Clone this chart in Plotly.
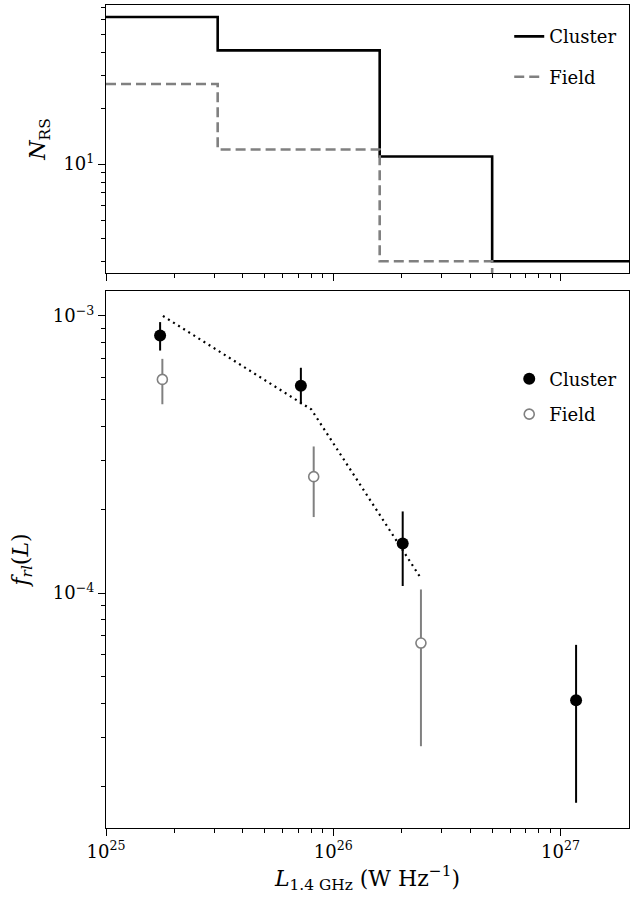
import plotly.graph_objects as go

# ---------------- data ----------------
bin_edges = [1.0e25, 3.1e25, 1.6e26, 5.0e26, 2.0e27]
n_cluster = [62, 41, 11, 3]
n_field = [27, 12, 3, 0]

L_cluster = [1.73e25, 7.2e25, 2.02e26, 1.17e27]
f_cluster = [8.5e-4, 5.6e-4, 1.51e-4, 4.1e-5]
f_cluster_hi = [9.5e-4, 6.5e-4, 1.97e-4, 6.5e-5]
f_cluster_lo = [7.5e-4, 4.8e-4, 1.06e-4, 1.75e-5]

L_field = [1.77e25, 8.2e25, 2.43e26]
f_field = [5.9e-4, 2.63e-4, 6.6e-5]
f_field_hi = [7.0e-4, 3.38e-4, 1.03e-4]
f_field_lo = [4.8e-4, 1.88e-4, 2.8e-5]

L_model = [1.78e25, 8.0e25, 2.43e26]
f_model = [1.0e-3, 4.6e-4, 1.13e-4]

x_tick_vals = [1e25, 1e26, 1e27]
x_tick_text = ["10<sup>25</sup>", "10<sup>26</sup>", "10<sup>27</sup>"]
# --------------------------------------

FONT = "DejaVu Serif"
GRAY = "#808080"


def step_y(counts):
    # zero counts are sent below the log axis so the drop is drawn
    ys = [float(c) if c > 0 else 1e-3 for c in counts]
    return ys + [ys[-1]]


fig = go.Figure()

fig.add_trace(go.Scatter(
    x=bin_edges, y=step_y(n_cluster), mode="lines", line_shape="hv",
    line=dict(color="black", width=2.6), name="Cluster",
    xaxis="x", yaxis="y", legend="legend", legendgroup="c1"))
fig.add_trace(go.Scatter(
    x=bin_edges, y=step_y(n_field), mode="lines", line_shape="hv",
    line=dict(color=GRAY, width=2.6, dash="10px,5px"), name="Field",
    xaxis="x", yaxis="y", legend="legend", legendgroup="f1"))

fig.add_trace(go.Scatter(
    x=L_model, y=f_model, mode="lines",
    line=dict(color="black", width=2.2, dash="2px,4px"),
    showlegend=False, xaxis="x2", yaxis="y2"))

fig.add_trace(go.Scatter(
    x=L_cluster, y=f_cluster, mode="markers", name="Cluster",
    marker=dict(symbol="circle", size=12, color="black"),
    error_y=dict(type="data", symmetric=False,
                 array=[h - v for h, v in zip(f_cluster_hi, f_cluster)],
                 arrayminus=[v - l for v, l in zip(f_cluster, f_cluster_lo)],
                 thickness=2, width=0, color="black"),
    xaxis="x2", yaxis="y2", legend="legend2", legendgroup="c2"))
fig.add_trace(go.Scatter(
    x=L_field, y=f_field, mode="markers", name="Field",
    marker=dict(symbol="circle", size=10, color="white",
                line=dict(color=GRAY, width=1.6)),
    error_y=dict(type="data", symmetric=False,
                 array=[h - v for h, v in zip(f_field_hi, f_field)],
                 arrayminus=[v - l for v, l in zip(f_field, f_field_lo)],
                 thickness=2, width=0, color=GRAY),
    xaxis="x2", yaxis="y2", legend="legend2", legendgroup="f2"))

x_minor = [k * 10.0 ** e for e in (25, 26) for k in range(2, 10)]
y1_minor = [3.0, 4.0, 5.0, 6.0, 7.0, 8.0, 9.0, 20.0, 30.0, 40.0, 50.0, 60.0, 70.0]
y2_minor = [k * 10.0 ** e for e in (-5, -4) for k in range(2, 10)]

axis_common = dict(
    type="log", showline=True, linecolor="black", linewidth=1.1, mirror=True,
    ticks="outside", ticklen=7, tickwidth=1.1, tickcolor="black",
    showgrid=False, zeroline=False,
    tickfont=dict(family=FONT, size=18, color="black"),
)

fig.update_layout(
    width=631, height=897,
    margin=dict(l=106, r=2, t=5, b=69),
    paper_bgcolor="white", plot_bgcolor="white",
    font=dict(family=FONT, color="black"),
    xaxis=dict(**axis_common, domain=[0, 1], anchor="y", range=[25, 27.301],
               matches="x2", showticklabels=False,
               tickvals=x_tick_vals,
               minor=dict(tickvals=x_minor, ticklen=4, tickwidth=1, ticks="outside",
                          tickcolor="black", showgrid=False)),
    yaxis=dict(**axis_common, domain=[0.6744, 1], anchor="x",
               range=[0.414, 1.857],
               tickvals=[10.0], ticktext=["10<sup>1</sup>"],
               minor=dict(tickvals=y1_minor, ticklen=4, tickwidth=1, ticks="outside",
                          tickcolor="black", showgrid=False),
               title=dict(text="<i>N</i><sub>RS</sub>",
                          font=dict(family=FONT, size=22), standoff=11)),
    xaxis2=dict(**axis_common, domain=[0, 1], anchor="y2", range=[25, 27.301],
                tickvals=x_tick_vals, ticktext=x_tick_text,
                minor=dict(tickvals=x_minor, ticklen=4, tickwidth=1, ticks="outside",
                           tickcolor="black", showgrid=False),
                title=dict(text="<i>L</i><sub>1.4 GHz</sub> (W Hz<sup>−1</sup>)",
                           font=dict(family=FONT, size=22), standoff=9)),
    yaxis2=dict(**axis_common, domain=[0, 0.6525], anchor="x2",
                range=[-4.848, -2.91],
                tickvals=[1e-4, 1e-3], ticktext=["10<sup>−4</sup>", "10<sup>−3</sup>"],
                minor=dict(tickvals=y2_minor, ticklen=4, tickwidth=1, ticks="outside",
                           tickcolor="black", showgrid=False),
                title=dict(text="<i>f<sub>rl</sub></i>(<i>L</i>)",
                           font=dict(family=FONT, size=22), standoff=18)),
    legend=dict(x=0.771, y=0.984, xanchor="left", yanchor="top",
                bgcolor="rgba(0,0,0,0)", borderwidth=0,
                font=dict(family=FONT, size=18, color="black"),
                traceorder="grouped", tracegroupgap=14),
    legend2=dict(x=0.771, y=0.568, xanchor="left", yanchor="top",
                 bgcolor="rgba(0,0,0,0)", borderwidth=0,
                 font=dict(family=FONT, size=18, color="black"),
                 traceorder="grouped", tracegroupgap=9),
)

fig.write_html(
    "out.html",
    config={"displayModeBar": False},
    post_script="document.body.style.margin='0';document.body.style.padding='0';",
)
